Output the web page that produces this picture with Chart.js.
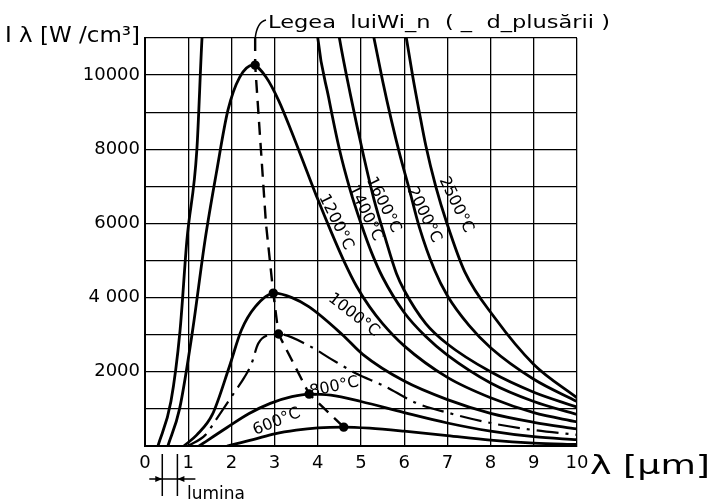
<!DOCTYPE html>
<html>
<head>
<meta charset="utf-8">
<script src="https://cdn.jsdelivr.net/npm/chart.js@4"></script>
<style>
  html, body { margin: 0; padding: 0; background: #fff; }
  canvas { display: block; }
</style>
</head>
<body>
<canvas id="grafic" width="716" height="501"></canvas>
<script>
// lungimea de unda [um] si intensitatea [W/cm3]
const lambda600 = [1.9, 2.5, 3.0, 3.5, 4.0, 4.6, 5.2, 6.0, 7.0, 8.0, 9.0, 10.0];
const int600 = [0, 170, 330, 430, 490, 510, 480, 400, 280, 160, 80, 40];

const lambda800 = [1.25, 1.9, 2.4, 2.9, 3.4, 3.8, 4.3, 5.0, 6.0, 7.0, 8.0, 9.0, 10.0];
const int800 = [0, 500, 870, 1150, 1330, 1400, 1370, 1200, 900, 620, 400, 250, 170];

const lambdaPunct = [1.0, 1.4, 1.65, 2.1, 2.3, 2.46, 2.62, 2.85, 3.07, 3.8, 4.3, 4.9, 5.5, 6.3, 7.0, 8.0, 9.0, 10.0];
const intPunct = [0, 300, 720, 1500, 1850, 2200, 2760, 2990, 3020, 2700, 2350, 1950, 1640, 1150, 900, 620, 430, 300];

const lambda1000 = [0.9, 1.2, 1.56, 1.95, 2.23, 2.55, 3.0, 3.4, 3.8, 4.57, 5.04, 6.0, 7.0, 8.0, 9.0, 10.0];
const int1000 = [0, 300, 850, 2130, 3120, 3750, 4120, 4000, 3750, 3000, 2470, 1750, 1250, 880, 640, 460];

const lambda1200 = [0.53, 0.8, 1.1, 1.39, 1.65, 1.92, 2.19, 2.5, 2.8, 3.1, 3.4, 3.7, 4.0, 4.3, 4.6, 4.9, 5.2, 5.5, 6.0, 7.0, 8.0, 9.0, 10.0];
const int1200 = [0, 1000, 3100, 5550, 7350, 9055, 9940, 10270, 9950, 9300, 8450, 7550, 6650, 5800, 5000, 4300, 3750, 3300, 2700, 1850, 1300, 900, 650];

const lambda1400 = [0.3, 0.6, 0.81, 0.97, 1.2, 1.32, 1.5, 3.8, 4.0, 4.25, 4.5, 4.75, 5.0, 5.25, 5.5, 6.0, 6.5, 7.0, 8.0, 9.0, 10.0];
const int1400 = [0, 1200, 3100, 5550, 7980, 11000, 14000, 14000, 11000, 9400, 8000, 6900, 6000, 5200, 4550, 3600, 2950, 2450, 1700, 1200, 850];

const lambda1600 = [4.3, 4.5, 4.75, 5.07, 5.3, 5.55, 5.82, 6.0, 6.5, 7.0, 8.0, 9.0, 10.0];
const int1600 = [12500, 11000, 9500, 7770, 6650, 5650, 4650, 4200, 3300, 2750, 2000, 1450, 1050];

const lambda2000 = [5.1, 5.3, 5.5, 5.7, 5.9, 6.1, 6.35, 6.7, 7.0, 7.5, 8.0, 9.0, 10.0];
const int2000 = [12200, 11000, 9850, 8800, 7850, 7000, 5900, 4750, 4050, 3250, 2650, 1800, 1200];

const lambda2500 = [5.9, 6.05, 6.2, 6.35, 6.5, 6.73, 6.99, 7.4, 8.1, 9.0, 10.0];
const int2500 = [12100, 11000, 9950, 9000, 8100, 7000, 6000, 4700, 3450, 2200, 1300];

// legea lui Wien (deplasarea maximelor)
const lambdaWien = [2.55, 2.55, 2.8, 2.97, 3.09, 3.8, 4.6];
const intWien = [11000, 10270, 6000, 4120, 3020, 1400, 510];

const etichetaY = {2000: '2000', 4000: '4 000', 6000: '6000', 8000: '8000', 10000: '10000'};

function puncte(xs, ys) {
    return xs.map((x, i) => ({ x: x, y: ys[i] }));
}

function curba(xs, ys, extra) {
    return Object.assign({
        data: puncte(xs, ys),
        showLine: true,
        borderColor: '#000',
        borderWidth: 2.8,
        pointRadius: 0,
        cubicInterpolationMode: 'monotone',
        fill: false
    }, extra || {});
}

const FONT = '"DejaVu Sans", sans-serif';

function textLat(ctx, t, x, y, latime) {
    const w = ctx.measureText(t).width;
    ctx.save();
    ctx.translate(x, y);
    ctx.scale(latime / w, 1);
    ctx.fillText(t, 0, 0);
    ctx.restore();
}

const texte = {
    id: 'texte',
    afterDatasetsDraw(chart) {
        const ctx = chart.ctx;
        const sx = chart.scales.x, sy = chart.scales.y;
        ctx.save();
        ctx.fillStyle = '#000';
        ctx.strokeStyle = '#000';

        // etichetele curbelor
        const etichete = [
            ['1200°C', 4.42, 6040, 64],
            ['1400°C', 5.1, 6280, 64],
            ['1600°C', 5.52, 6500, 64],
            ['2000°C', 6.46, 6230, 64],
            ['2500°C', 7.2, 6500, 64],
            ['1000°C', 4.83, 3530, 38],
            ['800°C', 4.38, 1590, -12],
            ['600°C', 3.05, 650, -22]
        ];
        ctx.font = '16px ' + FONT;
        ctx.textAlign = 'center';
        ctx.textBaseline = 'middle';
        etichete.forEach(([t, x, y, r]) => {
            ctx.save();
            ctx.translate(sx.getPixelForValue(x), sy.getPixelForValue(y));
            ctx.rotate(r * Math.PI / 180);
            ctx.fillText(t, 0, 0);
            ctx.restore();
        });

        // titlu axa Y
        ctx.textAlign = 'left';
        ctx.textBaseline = 'alphabetic';
        ctx.font = '21px ' + FONT;
        textLat(ctx, 'I λ [W /cm³]', 5, 42, 135);

        // titlu axa X
        ctx.font = '27px ' + FONT;
        textLat(ctx, 'λ [μm]', 590, 474, 120);

        // legea lui Wien
        ctx.font = '18px ' + FONT;
        textLat(ctx, 'Legea  luiWi_n  ( _  d_plusării )', 268, 28, 342);
        ctx.lineWidth = 1.5;
        ctx.beginPath();
        const xw = sx.getPixelForValue(2.55);
        ctx.moveTo(xw, sy.getPixelForValue(11000));
        ctx.quadraticCurveTo(xw + 2, 22, 266, 20);
        ctx.stroke();

        // lumina
        const x1 = sx.getPixelForValue(0.4), x2 = sx.getPixelForValue(0.75);
        const yb = sy.getPixelForValue(0);
        ctx.lineWidth = 1.5;
        ctx.beginPath();
        ctx.moveTo(x1, yb + 8); ctx.lineTo(x1, yb + 50);
        ctx.moveTo(x2, yb + 8); ctx.lineTo(x2, yb + 50);
        ctx.moveTo(x1 - 13, yb + 33); ctx.lineTo(x2 + 18, yb + 33);
        ctx.stroke();
        ctx.beginPath();
        ctx.moveTo(x1, yb + 33); ctx.lineTo(x1 - 7, yb + 30); ctx.lineTo(x1 - 7, yb + 36); ctx.closePath();
        ctx.moveTo(x2, yb + 33); ctx.lineTo(x2 + 7, yb + 30); ctx.lineTo(x2 + 7, yb + 36); ctx.closePath();
        ctx.fill();
        ctx.font = '17px ' + FONT;
        ctx.fillText('lumina', 187, 499);
        ctx.restore();
    }
};

new Chart(document.getElementById('grafic').getContext('2d'), {
    type: 'scatter',
    data: {
        datasets: [
            curba(lambda600, int600),
            curba(lambda800, int800),
            curba(lambdaPunct, intPunct, { borderWidth: 2.2, borderDash: [22, 7, 3, 7] }),
            curba(lambda1000, int1000),
            curba(lambda1200, int1200),
            curba(lambda1400, int1400),
            curba(lambda1600, int1600),
            curba(lambda2000, int2000),
            curba(lambda2500, int2500),
            curba(lambdaWien, intWien, {
                borderWidth: 2.4,
                borderDash: [13, 8],
                cubicInterpolationMode: 'default',
                tension: 0,
                pointRadius: [0, 3.5, 0, 3.5, 3.5, 3.5, 3.5],
                pointBackgroundColor: '#000',
                pointBorderColor: '#000'
            })
        ]
    },
    options: {
        responsive: false,
        animation: false,
        devicePixelRatio: 1,
        layout: { padding: { top: 38, right: 139, left: 0, bottom: 0 } },
        plugins: {
            legend: { display: false },
            tooltip: { enabled: false }
        },
        scales: {
            x: {
                type: 'linear',
                min: 0,
                max: 10,
                afterFit(s) { s.height = 55; },
                ticks: {
                    stepSize: 1,
                    color: '#000',
                    padding: 7,
                    font: { family: FONT, size: 18 }
                },
                grid: { color: '#000', lineWidth: 1.3, drawTicks: false },
                border: { color: '#000', width: 2 }
            },
            y: {
                min: 0,
                max: 11000,
                afterFit(s) { s.width = 145; },
                ticks: {
                    stepSize: 1000,
                    color: '#000',
                    padding: 5,
                    font: { family: FONT, size: 18 },
                    callback: v => etichetaY[v] || ''
                },
                grid: { color: '#000', lineWidth: 1.3, drawTicks: false },
                border: { color: '#000', width: 2 }
            }
        }
    },
    plugins: [texte]
});
</script>
</body>
</html>
